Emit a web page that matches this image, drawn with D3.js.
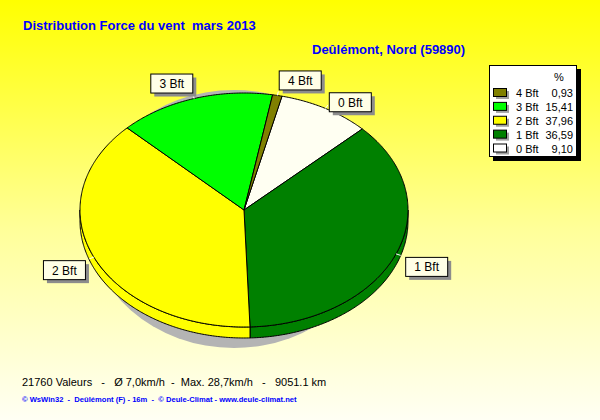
<!DOCTYPE html>
<html><head><meta charset="utf-8">
<script src="https://cdn.jsdelivr.net/npm/d3@7"></script>
<style>body{margin:0;padding:0;overflow:hidden}svg{display:block}text{white-space:pre}</style>
</head><body><svg id="c" width="600" height="420"></svg>
<script>
// ---- data ----
const categories = ["0 Bft", "1 Bft", "2 Bft", "3 Bft", "4 Bft"];
const percents   = [9.10, 36.59, 37.96, 15.41, 0.93];
const percentLabels = ["9,10", "36,59", "37,96", "15,41", "0,93"];
const colors     = ["#FFFFF2", "#008000", "#FFFF00", "#00FF00", "#808000"];
const legendColors = ["#FFFFFF", "#008000", "#FFFF00", "#00FF00", "#808000"];
const title = "Distribution Force du vent  mars 2013";
const subtitle = "Deûlémont, Nord (59890)";
const footer1 = "21760 Valeurs   -   Ø 7,0km/h  -  Max. 28,7km/h   -   9051.1 km";
const footer2 = "© WsWin32  -  Deûlémont (F) - 16m  -  © Deule-Climat - www.deule-climat.net";

const svg = d3.select("#c");
const W = 600, H = 420;
const defs = svg.append("defs");
const bg = defs.append("linearGradient").attr("id","bg").attr("x1",0).attr("y1",0).attr("x2",0).attr("y2",1);
bg.append("stop").attr("offset","0%").attr("stop-color","#FFFF00");
bg.append("stop").attr("offset","55%").attr("stop-color","#FFFF9A");
bg.append("stop").attr("offset","100%").attr("stop-color","#FFFFF4");
svg.append("rect").attr("width",W).attr("height",H).attr("fill","url(#bg)");

// title
svg.append("text").attr("x",23).attr("y",30).attr("fill","#0000FF")
  .style("font","bold 13px 'Liberation Sans', Arial, sans-serif").text(title);
svg.append("text").attr("x",312).attr("y",54).attr("fill","#0000FF")
  .style("font","bold 13px 'Liberation Sans', Arial, sans-serif").text(subtitle);

// ---- 3D pie ----
const cx = 244, cy = 210, rx = 164, ry = 117, depth = 11;
const start = 13.4 * Math.PI / 180;
const pie = d3.pie().sort(null).value(d => d).startAngle(start).endAngle(start + 2*Math.PI);
const arcs = pie(percents);
const pt = (a, dy=0) => [cx + rx*Math.sin(a), cy - ry*Math.cos(a) + dy];

// shadow
svg.append("ellipse").attr("cx",234).attr("cy",219).attr("rx",146).attr("ry",129).attr("fill","#B4B4B4");

function sample(a0, a1, dy) {
  const n = Math.max(2, Math.ceil(Math.abs(a1-a0)/0.01));
  return d3.range(n+1).map(i => pt(a0 + (a1-a0)*i/n, dy));
}
const line = d3.line();
// sides (visible lower half)
const sideG = svg.append("g");
arcs.forEach((d,i) => {
  for (const off of [0, 2*Math.PI, -2*Math.PI]) {
    const s = Math.max(d.startAngle + off, Math.PI/2), e = Math.min(d.endAngle + off, 3*Math.PI/2);
    if (e > s) {
      const pts = sample(s, e, 0).concat(sample(e, s, depth));
      sideG.append("path").attr("d", line(pts) + "Z").attr("fill", colors[i])
        .attr("stroke","#000").attr("stroke-width",1);
    }
  }
});
// top faces
const topG = svg.append("g");
arcs.forEach((d,i) => {
  const pts = [[cx,cy]].concat(sample(d.startAngle, d.endAngle, 0));
  topG.append("path").attr("d", line(pts) + "Z").attr("fill", colors[i])
    .attr("stroke","#000").attr("stroke-width",1).attr("stroke-linejoin","round");
});

// labels
const font = "12px 'Liberation Sans', Arial, sans-serif";
arcs.forEach((d,i) => {
  const m = (d.startAngle + d.endAngle)/2;
  const s = Math.sin(m), c = Math.cos(m);
  const P = pt(m);
  const Q = [P[0] + 5*s, P[1] - 4*c];
  svg.append("line").attr("x1",P[0]).attr("y1",P[1]).attr("x2",Q[0]).attr("y2",Q[1])
    .attr("stroke","#FFFFFF").attr("stroke-width",1);
  const bw = 42, bh = 19;
  const dx = 1 + 9.5*s*s;
  const bx = s >= 0 ? P[0] + dx : P[0] - dx - bw;
  const by = c > 0 ? P[1] - 6 - bh + 60*Math.max(0, Math.abs(s) - 0.35) : P[1] + 3;
  svg.append("rect").attr("x",bx+4).attr("y",by+4).attr("width",bw).attr("height",bh).attr("fill","#8C8C8C");
  svg.append("rect").attr("x",bx+0.5).attr("y",by+0.5).attr("width",bw).attr("height",bh)
    .attr("fill","#FFFFE6").attr("stroke","#000");
  svg.append("text").attr("x",bx+bw/2+0.5).attr("y",by+bh/2+5).attr("text-anchor","middle")
    .style("font",font).attr("fill","#000").text(categories[i]);
});

// legend
const lg = svg.append("g");
lg.append("rect").attr("x",493).attr("y",69).attr("width",88).attr("height",92).attr("fill","#000");
lg.append("rect").attr("x",489.5).attr("y",65.5).attr("width",87).attr("height",91).attr("fill","#FFFFFF").attr("stroke","#000");
lg.append("text").attr("x",559).attr("y",81).attr("text-anchor","middle").style("font","11px 'Liberation Sans', Arial, sans-serif").text("%");
const order = d3.range(categories.length).reverse();
const ly = d3.scalePoint().domain(order).range([93, 148.5]);
order.forEach(i => {
  const y = ly(i);
  lg.append("rect").attr("x",496).attr("y",y-2).attr("width",13).attr("height",8).attr("fill","#A0A0A0");
  lg.append("rect").attr("x",493.5).attr("y",y-4.5).attr("width",13).attr("height",8).attr("fill",legendColors[i]).attr("stroke","#000");
  lg.append("text").attr("x",516).attr("y",y+4).style("font","11px 'Liberation Sans', Arial, sans-serif").text(categories[i]);
  lg.append("text").attr("x",573).attr("y",y+4).attr("text-anchor","end").style("font","11px 'Liberation Sans', Arial, sans-serif").text(percentLabels[i]);
});

// footers
svg.append("text").attr("x",22).attr("y",386).style("font","11px 'Liberation Sans', Arial, sans-serif").attr("fill","#000").text(footer1);
svg.append("text").attr("x",22).attr("y",402).style("font","bold 7.6px 'Liberation Sans', Arial, sans-serif").attr("fill","#0000FF").text(footer2);
</script></body></html>
